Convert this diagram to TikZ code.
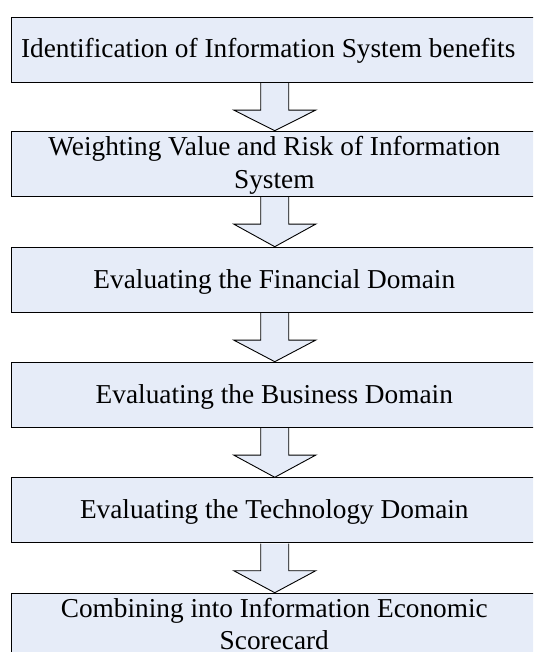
\documentclass[tikz,border=0pt]{standalone}
\usepackage{fontspec}
\setmainfont{Liberation Serif}
\usetikzlibrary{calc}
\definecolor{boxfill}{RGB}{230,236,248}
\begin{document}
\begin{tikzpicture}[x=1pt,y=-1pt,
  stepbox/.style={draw=black, fill=boxfill, line width=0.9pt, rectangle, inner sep=0pt,
    minimum width=526pt, minimum height=65pt, anchor=north west},
  lbl/.style={font=\fontsize{27.3}{32.3}\selectfont, anchor=base, inner sep=0pt},
  blockarrow/.style={draw=black, fill=boxfill, line width=0.9pt, line join=miter}]
\useasboundingbox (0,0) rectangle (533,652);
\clip (0,0) rectangle (533,652);
% boxes
\node[stepbox] (b1) at (11.3,16.7) {};
\node[stepbox] (b2) at (11.3,130.7) {};
\node[stepbox] (b3) at (11.3,246.7) {};
\node[stepbox] (b4) at (11.3,361.7) {};
\node[stepbox] (b5) at (11.3,477.3) {};
\node[stepbox] (b6) at (11.3,592.7) {};
% block arrows
\foreach \a/\b in {b1/b2,b2/b3,b3/b4,b4/b5,b5/b6}{
  \draw[blockarrow] ($(\a.south)+(-14,0.45)$) -- ($(\a.south)+(-14,27.5)$)
    -- ($(\a.south)+(-41,27.5)$) -- (\b.north) -- ($(\a.south)+(41,27.5)$)
    -- ($(\a.south)+(14,27.5)$) -- ($(\a.south)+(14,0.45)$);
}
% labels
\node[lbl] (t1) at (268.2,57.7) {Identification of Information System benefits};
\node[lbl] (t2a) at (274.3,156) {Weighting Value and Risk of Information};
\node[lbl] (t2b) at (274.3,188.3) {System};
\node[lbl] (t3) at (274.3,288.2) {Evaluating the Financial Domain};
\node[lbl] (t4) at (274.3,403.2) {Evaluating the Business Domain};
\node[lbl] (t5) at (274.3,518.8) {Evaluating the Technology Domain};
\node[lbl] (t6a) at (274.3,617.5) {Combining into Information Economic};
\node[lbl] (t6b) at (274.3,649.8) {Scorecard};
\end{tikzpicture}
\end{document}
